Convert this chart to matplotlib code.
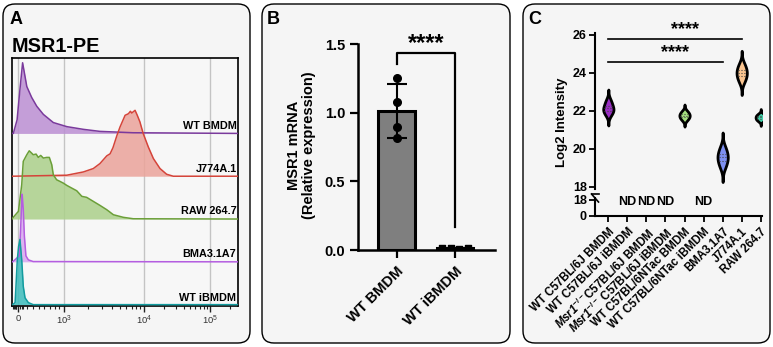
import numpy as np
import matplotlib
matplotlib.use('Agg')
import matplotlib.pyplot as plt
from matplotlib.patches import FancyBboxPatch

plt.rcParams['font.family'] = ['Liberation Sans', 'DejaVu Sans']
plt.rcParams['mathtext.fontset'] = 'custom'
plt.rcParams['mathtext.rm'] = 'Liberation Sans'
plt.rcParams['mathtext.it'] = 'Liberation Sans:italic'
plt.rcParams['mathtext.bf'] = 'Liberation Sans:bold'
plt.rcParams['mathtext.bfit'] = 'Liberation Sans:bold:italic'

# ---------------- data ----------------
# Panel A: flow histograms (x: display channel 0-1023, y: normalized count)
flow_labels = ['WT iBMDM', 'BMA3.1A7', 'RAW 264.7', 'J774A.1', 'WT BMDM']
wt_bmdm_ch = [0, 6, 23, 36, 48, 67, 89, 112, 142, 187, 248, 323, 398, 548, 1023]
wt_bmdm_ct = [0, 0, 20, 65, 104, 69, 53, 40, 28, 16, 10, 6, 3, 1, 0]
j774_ch = [0, 248, 323, 368, 398, 429, 444, 457, 475, 489, 512, 527, 536, 542,
           557, 567, 579, 594, 617, 640, 670, 700, 730, 1023]
j774_ct = [0, 1.5, 6.3, 11.3, 18.6, 30, 33, 42, 60, 72.5, 89.7, 92, 95.6, 93,
           97, 89.7, 80, 62.8, 43.1, 26, 11.3, 2.9, 0, 0]
raw_ch = [0, 3, 29, 44, 51, 67, 78, 89, 96, 109, 119, 130, 142, 157, 169, 180,
          187, 202, 217, 232, 248, 270, 293, 316, 338, 368, 398, 429, 459, 504,
          549, 1023]
raw_ct = [0, 1.5, 11.3, 50.4, 84.9, 94.6, 100.4, 97, 94.6, 95.6, 90.7, 93.6,
          89.7, 90.7, 90.7, 79.9, 65.1, 57.8, 55.4, 52.9, 49.5, 45.6, 41.6, 33.4,
          31.9, 26, 20.1, 13.7, 6.3, 2.5, 0.4, 0]
bma_ch = [0, 3, 33, 39, 45, 46, 51, 56, 63, 74, 96, 1023]
bma_ct = [0, 0, 8.8, 48, 97, 99.5, 77.5, 38.2, 8.8, 2.9, 0.4, 0]
ibmdm_ch = [0, 3, 14, 18, 24, 30, 36, 44, 51, 59, 74, 96, 1023]
ibmdm_ct = [0, 0, 3, 27, 66, 86, 96, 66, 27, 10, 3, 0, 0]
flow_tick_ch = [28, 235, 598, 896]
flow_tick_lab = ['0', r'$10^3$', r'$10^4$', r'$10^5$']

# Panel B: qPCR
b_groups = ['WT BMDM', 'WT iBMDM']
b_wt_bmdm = [1.256, 1.075, 0.893, 0.817]
b_wt_ibmdm = [0.012, 0.018, 0.010, 0.014]

# Panel C: proteomics log2 intensity
c_labels = ['WT C57BL/6J BMDM', 'WT C57BL/6J iBMDM',
            r'$\mathbfit{Msr1}^{\mathbf{-/-}}$C57BL/6J BMDM',
            r'$\mathbfit{Msr1}^{\mathbf{-/-}}$ C57BL/6J iBMDM',
            'WT C57BL/6NTac BMDM', 'WT C57BL/6NTac iBMDM',
            'BMA3.1A7', 'J774A.1', 'RAW 264.7']
c_wt6j_bmdm = [21.85, 22.05, 22.2, 22.5]
c_ntac_bmdm = [21.55, 21.7, 21.8, 21.95]
c_bma = [19.1, 19.45, 19.65, 20.0]
c_j774 = [23.6, 23.9, 24.1, 24.4]
c_raw = [21.5, 21.6, 21.7, 21.8]
c_nd = [1, 2, 3, 5]

# ---------------- figure ----------------
W, H = 773, 347
fig = plt.figure(figsize=(W / 100, H / 100), dpi=100)


def fr(l, t, r, b):
    return [l / W, 1 - b / H, (r - l) / W, (b - t) / H]


BOXC = '#f5f5f5'
for (l, r) in [(3, 250), (262, 510), (523, 770)]:
    p = FancyBboxPatch((l / W, 4 / H), (r - l) / W, (H - 8) / H,
                       boxstyle="round,pad=0,rounding_size=%f" % (12 / W),
                       mutation_aspect=W / H,
                       transform=fig.transFigure, fc=BOXC, ec='black', lw=1.0,
                       zorder=-5)
    fig.patches.append(p)

for lab, x in [('A', 10), ('B', 267), ('C', 528)]:
    fig.text(x / W, 1 - 19 / H, lab, fontsize=13, fontweight='bold', va='center')

# ---------------- Panel A ----------------
axA = fig.add_axes(fr(12, 58, 238, 306))
axA.set_facecolor('#f7f7f7')
rows = [
    (ibmdm_ch, ibmdm_ct, '#129b9e', '#3cbcbc'),
    (bma_ch, bma_ct, '#b45ee0', '#d7a8ef'),
    (raw_ch, raw_ct, '#6b9f38', '#abd08a'),
    (j774_ch, j774_ct, '#d5443a', '#eba39a'),
    (wt_bmdm_ch, wt_bmdm_ct, '#7a3a9c', '#bb8fd3'),
]
step = 63
for i in range(4, -1, -1):
    ch, ct, lc, fc = rows[i]
    off = i * step
    y = np.asarray(ct) + off
    axA.fill_between(ch, off, y, color=fc, alpha=0.85, lw=0, zorder=2 + (4 - i) * 0.1)
    axA.plot(ch, y, color=lc, lw=1.1, zorder=3 + (4 - i) * 0.1)
    axA.text(1016, off + (2.5 if i == 0 else 4), flow_labels[i], ha='right', va='bottom',
             fontsize=7.8, fontweight='bold', zorder=6)
for t in flow_tick_ch:
    axA.axvline(t, color='#c4c4c4', lw=1.0, zorder=1)
axA.set_xlim(0, 1023)
axA.set_ylim(-2, 363)
axA.set_yticks([])
axA.set_xticks(flow_tick_ch)
axA.set_xticklabels(flow_tick_lab, fontsize=6.8, color='#333333')
minor = [4, 8, 12, 16, 20, 36, 44, 52, 70, 95, 120, 145, 170, 195, 215]
for a, b in [(235, 598), (598, 896), (896, 1194)]:
    for k in range(2, 10):
        v = a + np.log10(k) * (b - a)
        if v < 1023:
            minor.append(v)
axA.set_xticks(minor, minor=True)
axA.tick_params(axis='x', which='major', length=4, width=1, pad=1.5, color='#222222')
axA.tick_params(axis='x', which='minor', length=2.5, width=0.8, color='#222222')
for s in axA.spines.values():
    s.set_linewidth(1.2)
fig.text(12 / W, 1 - 47 / H, 'MSR1-PE', fontsize=14.3, fontweight='bold', va='center')

# ---------------- Panel B ----------------
axB = fig.add_axes(fr(358.3, 44, 495, 250))
axB.set_facecolor('none')
bx = [0, 1]
bvals = [b_wt_bmdm, b_wt_ibmdm]
means = [np.mean(v) for v in bvals]
sds = [np.std(v, ddof=1) for v in bvals]
axB.bar(bx, means, width=0.63, color='#7f7f7f', edgecolor='black', linewidth=2.2, zorder=2)
axB.errorbar(bx, means, yerr=sds, fmt='none', ecolor='black', elinewidth=1.5,
             capsize=7, capthick=1.5, zorder=3)
axB.scatter([0] * len(b_wt_bmdm), b_wt_bmdm, s=30, color='black', zorder=4)
jit = [-0.22, -0.07, 0.07, 0.22]
axB.scatter([1 + j for j in jit], b_wt_ibmdm, s=22, color='black', marker='s', zorder=4)
axB.plot([0, 0, 1, 1], [1.352, 1.437, 1.437, 0.17], color='black', lw=1.6, clip_on=False)
axB.text(0.5, 1.50, '****', ha='center', va='center', fontsize=17, fontweight='bold')
axB.set_xlim(-0.66, 1.69)
axB.set_ylim(0, 1.5)
axB.set_yticks([0, 0.5, 1.0, 1.5])
axB.set_yticklabels(['0.0', '0.5', '1.0', '1.5'], fontsize=10.5, fontweight='bold')
axB.set_xticks(bx)
axB.set_xticklabels(b_groups, fontsize=10.5, fontweight='bold', rotation=45,
                    ha='right', rotation_mode='anchor')
axB.tick_params(axis='both', length=6, width=1.6)
axB.tick_params(axis='x', pad=4)
for s in ['top', 'right']:
    axB.spines[s].set_visible(False)
for s in ['left', 'bottom']:
    axB.spines[s].set_linewidth(1.8)
axB.set_ylabel('MSR1 mRNA\n(Relative expression)', fontsize=10.5, fontweight='bold',
               linespacing=1.1)
axB.yaxis.set_label_coords(-0.31, 0.51)

# ---------------- Panel C ----------------
axC = fig.add_axes(fr(595, 33.1, 761.7, 189.5))
axCl = fig.add_axes(fr(595, 198, 761.7, 216))
for ax in (axC, axCl):
    ax.set_facecolor('none')
    ax.set_xlim(-0.7, 8.05)
    for s in ['top', 'right']:
        ax.spines[s].set_visible(False)
    ax.spines['left'].set_linewidth(1.5)
axC.spines['bottom'].set_visible(False)
axCl.spines['bottom'].set_linewidth(1.5)
axC.set_ylim(17.85, 26.1)
axCl.set_ylim(0, 20)


def draw_violin(ax, pos, vals, color, half=0.27):
    v = np.asarray(vals, dtype=float)
    h = v.std(ddof=1) * len(v) ** (-0.2)
    yy = np.linspace(v.min() - 3 * h, v.max() + 3 * h, 300)
    d = np.exp(-0.5 * ((yy[:, None] - v[None, :]) / h) ** 2).sum(1)
    w = d / d.max() * half
    ax.fill_betweenx(yy, pos - w, pos + w, facecolor=color, edgecolor='black',
                     linewidth=2.0, zorder=3)
    for q in np.percentile(v, [25, 50, 75]):
        wq = np.interp(q, yy, w)
        ax.plot([pos - wq * 0.8, pos + wq * 0.8], [q, q], ls=':', color='#444444',
                lw=0.8, zorder=4)


draw_violin(axC, 0, c_wt6j_bmdm, '#9a2ec4')
draw_violin(axC, 4, c_ntac_bmdm, '#a6e07f')
draw_violin(axC, 6, c_bma, '#7d8ff0')
draw_violin(axC, 7, c_j774, '#fbc590')
draw_violin(axC, 8, c_raw, '#3fcfa8')

axC.plot([0, 7], [25.79, 25.79], color='black', lw=1.2, clip_on=False)
axC.plot([0, 6], [24.6, 24.6], color='black', lw=1.2, clip_on=False)
axC.text(4.0, 26.3, '****', ha='center', va='center', fontsize=13, fontweight='bold',
         clip_on=False)
axC.text(3.5, 25.07, '****', ha='center', va='center', fontsize=13, fontweight='bold')

axC.set_xticks([])
axC.set_yticks([18, 20, 22, 24, 26])
axC.set_yticklabels(['18', '20', '22', '24', '26'], fontsize=9, fontweight='bold')
axC.tick_params(axis='y', length=4, width=1.3, pad=2)
axC.set_ylabel('Log2 Intensity', fontsize=9.5, fontweight='bold')
axC.yaxis.set_label_coords(-0.16, 0.43)

axCl.set_yticks([0, 18])
axCl.set_yticklabels(['0', '18'], fontsize=9, fontweight='bold')
axCl.tick_params(axis='y', length=4, width=1.3, pad=2)
axCl.set_xticks(range(len(c_labels)))
axCl.set_xticklabels(c_labels, fontsize=8.3, fontweight='bold', rotation=45,
                     ha='right', rotation_mode='anchor')
axCl.tick_params(axis='x', length=4, width=1.3, pad=3)
for c in c_nd:
    axCl.text(c, 15.9, 'ND', ha='center', va='center', fontsize=9, fontweight='bold',
              clip_on=False)

# axis break marks
dx = 3.5 / 166.7
axC.plot([-dx, dx], [-4 / 156.4, 4 / 156.4 - 8 / 156.4], transform=axC.transAxes,
         color='black', lw=1.2, clip_on=False)
axCl.plot([-dx, dx], [1 + 4 / 18, 1 - 4 / 18], transform=axCl.transAxes,
          color='black', lw=1.2, clip_on=False)

fig.savefig('out.png', dpi=100)
